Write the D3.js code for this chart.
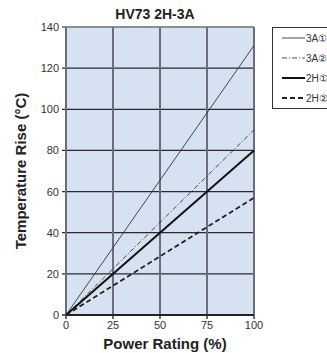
<!DOCTYPE html>
<html>
<head>
<meta charset="utf-8">
<script src="https://cdn.jsdelivr.net/npm/d3@7"></script>
<style>
  body { margin: 0; background: #fff; }
  svg { display: block; font-family: "Liberation Sans", Arial, sans-serif; }
</style>
</head>
<body>
<svg id="chart"></svg>
<script>
var width = 327, height = 353;

var powerRating = [0, 100];
var xTicks = [0, 25, 50, 75, 100];
var yTicks = [0, 20, 40, 60, 80, 100, 120, 140];

var seriesNames = ['3A①', '3A②', '2H①', '2H②'];
var rise3A1 = [0, 131];
var rise3A2 = [0, 90];
var rise2H1 = [0, 80];
var rise2H2 = [0, 57];

var styles = [
    {stroke: '#333', width: 0.9, dash: null},
    {stroke: '#222', width: 0.8, dash: '5,2,1,2'},
    {stroke: '#111', width: 2, dash: null},
    {stroke: '#222', width: 1.8, dash: '5,3'}
];

var series = [rise3A1, rise3A2, rise2H1, rise2H2].map((vals, i) => ({
    name: seriesNames[i],
    points: vals.map((v, j) => ({x: powerRating[j], y: v}))
}));

var plotL = 66, plotR = 254, plotT = 27, plotB = 315;

var x = d3.scaleLinear().domain([0, 100]).range([plotL, plotR]);
var y = d3.scaleLinear().domain([0, 140]).range([plotB, plotT]);

var svg = d3.select('#chart')
    .attr('width', width)
    .attr('height', height);

svg.append('rect')
    .attr('x', plotL).attr('y', plotT)
    .attr('width', plotR - plotL).attr('height', plotB - plotT)
    .attr('fill', '#d6e2f2');

// horizontal grid
svg.append('g')
    .selectAll('line')
    .data(yTicks)
    .enter()
    .append('line')
        .attr('x1', plotL - 4).attr('x2', plotR)
        .attr('y1', d => y(d)).attr('y2', d => y(d))
        .attr('stroke', d => d === 140 ? '#6a6e78' : '#2a2a2a')
        .attr('stroke-width', d => d === 0 ? 1.6 : 1.3);

// vertical grid
svg.append('g')
    .selectAll('line')
    .data(xTicks)
    .enter()
    .append('line')
        .attr('x1', d => x(d)).attr('x2', d => x(d))
        .attr('y1', plotT).attr('y2', plotB + 4)
        .attr('stroke', '#6a6e78')
        .attr('stroke-width', 2);

// bottom axis line
svg.append('line')
    .attr('x1', plotL).attr('x2', plotR)
    .attr('y1', y(0)).attr('y2', y(0))
    .attr('stroke', '#111').attr('stroke-width', 1.6);

svg.append('g')
    .selectAll('text')
    .data(yTicks)
    .enter()
    .append('text')
        .attr('x', plotL - 7)
        .attr('y', d => y(d) + 4)
        .attr('text-anchor', 'end')
        .attr('font-size', 11)
        .attr('fill', '#333')
        .text(d => d);

svg.append('g')
    .selectAll('text')
    .data(xTicks)
    .enter()
    .append('text')
        .attr('x', d => x(d))
        .attr('y', plotB + 14)
        .attr('text-anchor', 'middle')
        .attr('font-size', 11)
        .attr('fill', '#333')
        .text(d => d);

var line = d3.line().x(d => x(d.x)).y(d => y(d.y));

svg.append('g')
    .selectAll('path')
    .data(series)
    .enter()
    .append('path')
        .attr('d', d => line(d.points))
        .attr('fill', 'none')
        .attr('stroke', (d, i) => styles[i].stroke)
        .attr('stroke-width', (d, i) => styles[i].width)
        .attr('stroke-dasharray', (d, i) => styles[i].dash);

// titles
svg.append('text')
    .attr('x', 155).attr('y', 19)
    .attr('text-anchor', 'middle')
    .attr('font-size', 14).attr('font-weight', 'bold')
    .attr('fill', '#222')
    .text('HV73 2H-3A');

svg.append('text')
    .attr('transform', `translate(26,${(plotT + plotB) / 2}) rotate(-90)`)
    .attr('text-anchor', 'middle')
    .attr('font-size', 15).attr('font-weight', 'bold')
    .attr('fill', '#222')
    .text('Temperature Rise (°C)');

svg.append('text')
    .attr('x', 165).attr('y', 349)
    .attr('text-anchor', 'middle')
    .attr('font-size', 15).attr('font-weight', 'bold')
    .attr('fill', '#222')
    .text('Power Rating (%)');

// legend
var legend = svg.append('g').attr('transform', 'translate(272,27)');
legend.append('rect')
    .attr('x', 0.5).attr('y', 0.5)
    .attr('width', 70).attr('height', 81)
    .attr('fill', '#fff')
    .attr('stroke', '#333').attr('stroke-width', 1);

var items = legend.selectAll('.item')
    .data(series)
    .enter()
    .append('g')
        .attr('transform', (d, i) => `translate(0,${11 + i * 20})`);

items.append('line')
    .attr('x1', 10).attr('x2', 33)
    .attr('y1', 0).attr('y2', 0)
    .attr('stroke', (d, i) => styles[i].stroke)
    .attr('stroke-width', (d, i) => styles[i].width)
    .attr('stroke-dasharray', (d, i) => styles[i].dash);

items.append('text')
    .attr('x', 34).attr('y', 4)
    .attr('font-size', 10)
    .attr('fill', '#333')
    .text(d => d.name);
</script>
</body>
</html>
